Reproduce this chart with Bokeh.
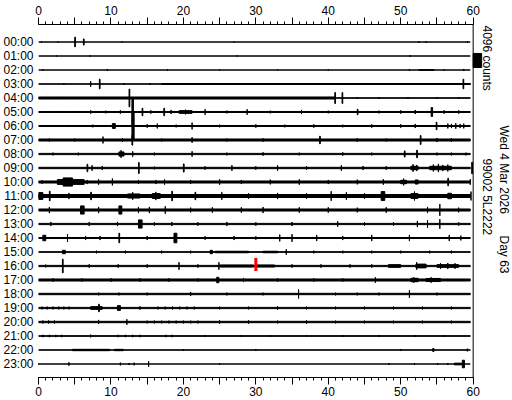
import math
from bokeh.plotting import figure
from bokeh.models import Range1d, LinearAxis, FixedTicker, Span, ColumnDataSource
from bokeh.core.properties import value
from bokeh.embed import file_html
from bokeh.resources import INLINE

# ---------------- data ----------------
hours = list(range(24))
hour_labels = ["%02d:00" % h for h in hours]
minute_ticks = [0, 5, 10, 15, 20, 25, 30, 35, 40, 45, 50, 55, 60]
minute_labels = ["0", "", "10", "", "20", "", "30", "", "40", "", "50", "", "60"]
minute_minor = list(range(61))
counts_per_row = 4096          # row spacing equals the 4096-count scale bar
scale_counts = 4096
trace_end = 59.6               # minutes recorded in each line
marker_hour = 16
marker_minute = 30.0

# background noise half-amplitude per hour (counts)
noise = [0, 0, 0, 60, 80, 150, 150, 300, 180, 200, 300, 440,
         300, 180, 150, 100, 180, 300, 200, 180, 200, 100, 50, 0]

# events: (start minute, end minute, half-amplitude counts)
ev00 = [(0.4, 0.4, 200), (2.7, 2.7, 150), (5.0, 5.1, 1400), (6.2, 6.3, 900), (11.5, 11.5, 150),
        (27, 27, 150), (52.5, 52.5, 250), (53.5, 53.5, 250), (59.2, 59.2, 250)]
ev01 = [(2.5, 2.5, 150), (7.1, 7.1, 200), (27.4, 27.4, 150), (51.3, 51.3, 250)]
ev02 = [(0.6, 0.6, 200), (9.5, 9.5, 300), (17.8, 17.8, 200), (25, 25, 150), (33, 33, 150), (40, 40, 150),
        (51.2, 51.2, 250), (52.5, 54.6, 100), (56, 56, 200), (58.7, 58.7, 300)]
ev03 = [(3.5, 3.5, 200), (7.2, 7.2, 800), (8.4, 8.5, 1400), (11.8, 11.8, 250), (15.4, 15.4, 250),
        (17, 59.6, 150), (24, 24, 300), (31, 31, 250), (45, 45, 300), (58.6, 58.7, 1400)]
ev04 = [(0, 41, 300), (2.7, 2.7, 300), (12.5, 12.6, 2600), (24, 24, 200), (40.9, 41.0, 1600),
        (41.9, 42.0, 1600), (44, 44, 250), (47, 47, 250), (51, 51, 250), (55, 55, 250), (58, 58, 250)]
ev05 = [(1.0, 1.0, 250), (3, 3, 300), (5.2, 5.2, 300), (7.2, 7.2, 500), (9.3, 9.3, 400), (11.3, 11.3, 500),
        (12.9, 13.1, 3800), (14.3, 14.4, 1100), (15.5, 15.5, 500), (17.3, 17.4, 1100), (18.3, 18.3, 600),
        (19.4, 21.2, 400), (20.3, 20.3, 700), (23, 23, 800), (26, 26, 400), (28.8, 28.8, 800), (32, 32, 400),
        (36.3, 36.3, 600), (40, 40, 400), (44, 44.1, 800), (47, 47, 400), (50, 50, 500), (52, 52, 600),
        (54.2, 54.4, 1300), (56, 56, 500), (58, 58, 500)]
ev06 = [(1, 1, 300), (4, 4, 300), (7.5, 7.5, 400), (10.2, 10.6, 700), (12.9, 13.2, 3800), (15, 15, 500),
        (16.4, 16.4, 700), (19, 19, 400), (21.2, 21.2, 1000), (25, 25, 400), (30, 30, 500), (34, 34, 400),
        (38, 38, 500), (42, 42, 400), (46, 46, 500), (50, 50, 500), (52, 52, 600), (54.9, 55, 1100),
        (56.5, 56.5, 700), (57.0, 57.0, 600), (57.6, 57.6, 800), (58.2, 58.2, 600), (58.7, 58.7, 700)]
ev07 = [(1.5, 1.5, 400), (5, 5, 400), (8.9, 8.9, 1000), (11.6, 11.6, 500), (12.9, 13.0, 1500), (17, 17, 400),
        (21.2, 21.2, 800), (26, 26, 400), (31, 31, 500), (38.8, 38.9, 1100), (44, 44, 500), (48, 48, 400),
        (52.7, 52.8, 1300), (55, 55, 600), (57, 57, 500)]
ev08 = [(2, 2, 400), (5.5, 5.5, 400), (11.1, 11.8, 600), (11.4, 11.4, 1100), (13, 13, 800), (16, 16, 400),
        (21.2, 21.2, 800), (26, 26, 400), (31, 31, 500), (36, 36, 400), (42, 42, 500), (46, 46, 400),
        (50.5, 50.6, 900), (52.2, 52.3, 1100), (55, 55, 400), (57, 57, 400), (59, 59, 400)]
ev09 = [(6.7, 6.8, 1100), (7.4, 7.4, 800), (8.8, 8.8, 600), (13.8, 13.9, 1600), (16, 16, 400), (20.0, 20.1, 1200),
        (23, 23, 500), (26.7, 26.7, 800), (30, 30, 500), (33, 33, 800), (37, 37, 500), (41.8, 41.8, 800),
        (44.8, 44.8, 600), (48, 48, 500), (51.4, 52.4, 500), (51.7, 51.7, 1100), (52.2, 52.2, 900),
        (54, 57, 500), (54.5, 54.5, 1000), (55.2, 55.2, 1200), (55.8, 55.8, 900), (56.5, 56.5, 1000),
        (59.8, 59.9, 1700)]
ev10 = [(0.5, 0.5, 500), (2.6, 6.3, 700), (3.4, 4.7, 1200), (6.7, 6.7, 600), (8.3, 8.3, 800), (10.2, 10.2, 1000),
        (13.8, 13.8, 600), (16.2, 16.2, 600), (17.4, 17.4, 800), (21, 21, 600), (25, 25, 800), (28, 28, 600),
        (32, 32, 700), (36, 36, 800), (40, 40, 600), (44, 44, 700), (47.6, 47.6, 800), (50, 50.8, 500),
        (50.4, 50.4, 1000), (52, 52.4, 600), (56.5, 56.6, 1100), (59.6, 59.6, 800)]
ev11 = [(0, 0.6, 1000), (1.5, 1.6, 1400), (4.2, 4.2, 900), (7.2, 7.3, 1100), (12.3, 14, 600), (13, 13, 1100),
        (15.7, 16.8, 700), (16.2, 16.2, 1200), (18.4, 18.5, 1400), (21.6, 21.7, 1100), (25.3, 25.3, 1100),
        (29, 29, 800), (33, 33, 900), (37, 37, 800), (40.4, 40.4, 1400), (42.5, 42.5, 1100), (45, 45, 800),
        (47.3, 47.8, 1300), (51.4, 52.4, 700), (51.9, 51.9, 1300), (56.5, 57, 800), (59.7, 59.7, 1300)]
ev12 = [(1.5, 1.5, 900), (5.8, 6.3, 1200), (8.3, 8.3, 900), (11.1, 11.5, 1200), (13.8, 13.8, 900), (15.3, 15.3, 900),
        (17.5, 17.5, 1100), (21, 21, 700), (24, 24, 800), (28, 28, 800), (31, 31, 900), (36, 36, 800),
        (40, 40, 800), (44, 44, 700), (48, 48, 800), (53.7, 53.7, 900), (55.4, 55.4, 1700), (58, 58, 700)]
ev13 = [(1.7, 1.7, 600), (7, 7, 600), (10.9, 10.9, 600), (13.8, 14.3, 1200), (16, 16, 500), (18.4, 18.4, 600),
        (22, 22, 500), (26, 26, 600), (30, 30, 500), (35, 35, 600), (41.3, 41.3, 800), (45, 45, 500),
        (49, 49, 500), (52.3, 52.3, 900), (53.7, 53.7, 1100), (55.4, 55.4, 1400), (58, 58, 500)]
ev14 = [(0.6, 1, 800), (4, 4, 1100), (6.5, 6.5, 600), (8.5, 8.5, 600), (11.1, 11.2, 1400), (15, 15, 600),
        (18.7, 19.1, 1400), (23, 23, 500), (27, 27, 600), (30, 30, 500), (33.3, 33.3, 1000), (35, 35, 1100),
        (38.4, 38.4, 900), (42, 42, 600), (46, 46, 900), (51.2, 51.2, 900), (56.7, 56.7, 900), (58.3, 58.3, 700)]
ev15 = [(3.3, 3.7, 500), (8, 8, 400), (12, 12, 400), (17, 17, 400), (21, 21, 400), (23.7, 24, 500),
        (24.4, 29, 220), (31, 33, 220), (34.2, 34.2, 800), (38, 38, 400), (42, 42, 400), (46, 46, 400),
        (50, 50, 400), (54, 54, 400), (57, 57, 400)]
ev16 = [(1, 1, 400), (3.3, 3.4, 2000), (7, 7, 500), (11, 11, 500), (15, 15, 500), (19.4, 19.4, 1100),
        (22, 22, 500), (24.9, 24.9, 1100), (25, 29.7, 300), (30.1, 32.6, 300), (35, 35, 500), (39, 39, 500),
        (43, 43, 500), (46, 46, 500), (48.3, 50, 400), (52.1, 53.5, 550), (52.2, 52.2, 1100),
        (55, 58, 400), (55.5, 55.5, 800), (56.5, 56.5, 900), (57.5, 57.5, 800)]
ev17 = [(2, 2, 500), (6, 6, 500), (10, 10, 500), (14, 14, 500), (18, 18, 500), (22, 22, 500), (24.6, 24.9, 800),
        (28.3, 28.3, 600), (33, 33, 500), (38, 38, 500), (42, 42, 500), (46.5, 46.5, 800), (51.4, 52.4, 500),
        (51.8, 51.8, 800), (53.5, 55.5, 450), (54.2, 54.2, 800)]
ev18 = [(8.3, 8.3, 400), (11.1, 11.1, 400), (15, 15, 400), (21, 21, 600), (26, 26, 400), (31, 31, 400),
        (35.9, 35.9, 1300), (41, 41, 400), (44, 44, 400), (47, 47, 400), (51.2, 51.2, 1100), (55, 55, 400)]
ev19 = [(0.5, 0.5, 400), (1.2, 1.2, 400), (2.0, 2.0, 400), (2.8, 2.8, 400), (3.5, 3.5, 400), (4.2, 4.2, 400),
        (7.2, 8.8, 400), (8.3, 8.4, 1100), (10.9, 11.3, 700), (14, 14, 500), (16.5, 16.5, 400), (17.5, 17.5, 400),
        (18.5, 18.5, 400), (19.5, 19.5, 400), (20.5, 20.5, 400), (21.5, 21.5, 400),
        (25, 25, 400), (29, 29, 400), (33, 33, 500), (37, 37, 400), (41, 41, 400), (45, 45, 400),
        (49, 49, 400), (53, 53, 400), (57, 57, 400)]
ev20 = [(0.6, 0.6, 450), (1.4, 1.4, 450), (2.2, 2.2, 450), (8.3, 8.3, 600), (12.2, 12.2, 800),
        (15, 15, 400), (16, 16, 400), (17, 17, 400), (18, 18, 400), (19, 19, 400), (20, 20, 400), (21, 21, 400),
        (22, 22, 400), (25, 25, 500), (29, 29, 500), (33, 33, 400), (37, 37, 500), (41, 41, 400),
        (45, 45, 400), (49, 49, 400), (53, 53, 400), (57, 57, 400)]
ev21 = [(0.6, 0.6, 350), (1.5, 1.5, 350), (2.4, 2.4, 350), (3.2, 3.2, 350), (7.2, 7.2, 400),
        (11, 11, 350), (12, 12, 350), (13, 13, 350), (14, 14, 350), (17.6, 17.6, 350), (18.4, 18.4, 350),
        (23, 23, 300), (28, 28, 300), (32, 32, 300), (37, 37, 300), (42, 42, 300), (47, 47, 300),
        (52, 52, 300), (56, 56, 300)]
ev22 = [(4.7, 9.8, 200), (10.5, 11.7, 200), (20, 20, 250), (30, 30, 250), (50, 50, 300), (54.4, 54.6, 400),
        (59.2, 59.2, 400)]
ev23 = [(0, 0, 300), (4.2, 4.2, 500), (11.3, 11.3, 400), (12.5, 12.5, 300), (13.2, 13.2, 400), (15.2, 15.2, 800),
        (25, 25, 250), (48.4, 48.4, 300), (51.9, 51.9, 300), (55.1, 55.1, 300), (56.5, 56.5, 300),
        (57.4, 58.4, 250), (58.5, 58.8, 1100)]

events_by_hour = [ev00, ev01, ev02, ev03, ev04, ev05, ev06, ev07, ev08, ev09, ev10, ev11,
                  ev12, ev13, ev14, ev15, ev16, ev17, ev18, ev19, ev20, ev21, ev22, ev23]

scale_label = "4096 counts"
station_label = "99002 5L2222"
date_label = "Wed 4 Mar 2026"
day_label = "Day 63"

FONT = "Liberation Sans"

# ---------------- figure ----------------
p = figure(width=512, height=400,
           x_range=Range1d(0, 65.43), y_range=Range1d(23.964, -1.25),
           output_backend="svg", toolbar_location=None,
           x_axis_location=None, y_axis_location=None,
           min_border_left=36, min_border_right=0, min_border_top=24, min_border_bottom=23)
p.outline_line_color = None
p.xgrid.grid_line_color = None
p.ygrid.grid_line_color = None
p.background_fill_color = "white"
p.border_fill_color = "white"

# traces: background band + events, all in counts scaled to row units
L, R, T, B = [], [], [], []
for h in hours:
    n = noise[h] / counts_per_row
    L.append(0.0); R.append(trace_end); T.append(h - n); B.append(h + n)
    for (s, e, a) in events_by_hour[h]:
        aa = a / counts_per_row
        L.append(s); R.append(e); T.append(h - aa); B.append(h + aa)
src = ColumnDataSource(dict(left=L, right=R, top=T, bottom=B))
p.quad(left="left", right="right", top="top", bottom="bottom", source=src,
       fill_color="black", line_color="black", line_width=1)

# current-time marker
p.segment(x0=[marker_minute], x1=[marker_minute], y0=[marker_hour - 0.57], y1=[marker_hour + 0.36],
          line_color="#ff0000", line_width=3)

# right border line
p.add_layout(Span(location=60, dimension="height", line_color="black", line_width=1))

# scale bar
bar_h = scale_counts / counts_per_row
p.quad(left=[60], right=[61.17], top=[0.82], bottom=[0.82 + bar_h], fill_color="black", line_color="black")

# rotated side texts
tsrc = ColumnDataSource(dict(x=[61.86, 61.86, 64.19, 64.19],
                             y=[-1.18, 8.32, 5.96, 13.82],
                             t=[scale_label, station_label, date_label, day_label]))
p.text(x="x", y="y", text="t", source=tsrc, angle=-math.pi / 2,
       text_align="left", text_baseline="middle", text_color="black",
       text_font=value(FONT), text_font_size="12px")

# axes
def minute_axis(standoff):
    return LinearAxis(ticker=FixedTicker(ticks=minute_ticks, minor_ticks=minute_minor),
                      bounds=(0, 60),
                      major_label_overrides={t: lab for t, lab in zip(minute_ticks, minute_labels)},
                      major_tick_out=7, major_tick_in=0, minor_tick_out=3, minor_tick_in=0,
                      major_label_standoff=standoff,
                      major_label_text_font=FONT, major_label_text_font_size="12px",
                      major_label_text_color="black",
                      axis_line_color="black", major_tick_line_color="black",
                      minor_tick_line_color="black")

p.add_layout(minute_axis(3), "above")
p.add_layout(minute_axis(2), "below")

left = LinearAxis(ticker=FixedTicker(ticks=hours),
                  major_label_overrides={h: lab for h, lab in zip(hours, hour_labels)},
                  axis_line_color=None, major_tick_line_color=None, minor_tick_line_color=None,
                  major_tick_out=0, major_tick_in=0, major_label_standoff=5,
                  major_label_text_font=FONT, major_label_text_font_size="12px",
                  major_label_text_color="black")
p.add_layout(left, "left")

open("out.html", "w").write(file_html(p, INLINE))
